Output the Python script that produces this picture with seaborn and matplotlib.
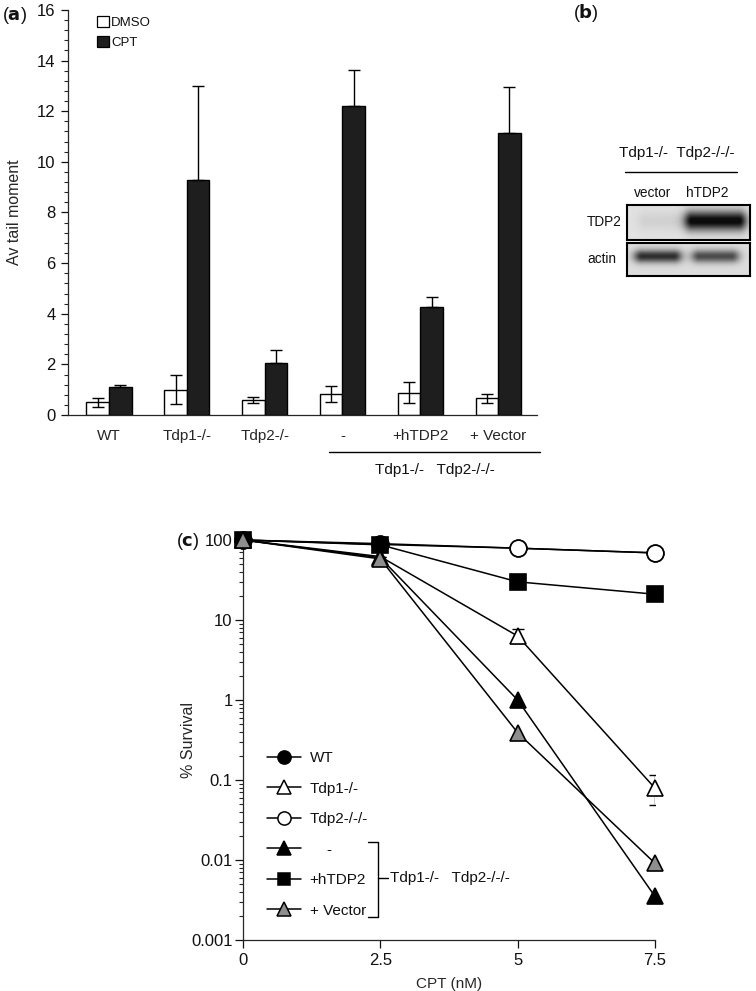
import numpy as np
import pandas as pd
import matplotlib
matplotlib.use("Agg")
import matplotlib.pyplot as plt
import matplotlib.transforms as mtrans
from matplotlib.lines import Line2D
from matplotlib.patches import Patch
from matplotlib.ticker import MultipleLocator, LogLocator, NullFormatter, FixedLocator
import seaborn as sns

# ---------------- data ----------------
groups = ["WT", "Tdp1-/-", "Tdp2-/-", "-", "+hTDP2", "+ Vector"]
treatments = ["DMSO", "CPT"]
dmso_mean = [0.50, 1.00, 0.60, 0.83, 0.88, 0.66]
dmso_err = [0.17, 0.58, 0.12, 0.30, 0.42, 0.17]
cpt_mean = [1.10, 9.30, 2.05, 12.20, 4.25, 11.15]
cpt_err = [0.10, 3.70, 0.52, 1.43, 0.42, 1.80]

lanes = ["vector", "hTDP2"]
tdp2_band = [0.07, 0.92]
actin_band = [0.72, 0.60]

doses = [0, 2.5, 5, 7.5]
dose_labels = ["0", "2.5", "5", "7.5"]
genotypes = ["WT", "Tdp1-/-", "Tdp2-/-/-", "-", "+hTDP2", "+ Vector"]
surv_wt = [100, 88, 79, 69]
surv_tdp1 = [100, 62, 6.3, 0.079]
surv_tdp2 = [100, 90, 79, 69]
surv_dko = [100, 60, 1.0, 0.0035]
surv_htdp2 = [100, 87, 30, 21]
surv_vector = [100, 58, 0.39, 0.0091]
tdp1_err_lo = [0, 0, 1.2, 0.030]
tdp1_err_hi = [0, 0, 1.4, 0.037]
ytick_vals = [0.001, 0.01, 0.1, 1, 10, 100]
ytick_labels = ["0.001", "0.01", "0.1", "1", "10", "100"]

# ---------------- style ----------------
sns.set_theme(style="ticks")
plt.rcParams["font.family"] = ["Liberation Sans", "DejaVu Sans"]
plt.rcParams["axes.linewidth"] = 0.9
plt.rcParams["text.color"] = "#111111"

W, H = 756, 991
fig = plt.figure(figsize=(W / 100, H / 100), dpi=100)


def fx(px):
    return px / W


def fy(py):
    return 1 - py / H


# ---------------- panel (a) ----------------
ax_a = fig.add_axes([fx(68), fy(415), (537 - 68) / W, (415 - 10) / H])
df_a = pd.DataFrame({
    "group": groups * 2,
    "treatment": ["DMSO"] * len(groups) + ["CPT"] * len(groups),
    "value": dmso_mean + cpt_mean,
})
sns.barplot(data=df_a, x="group", y="value", hue="treatment", order=groups,
            hue_order=treatments, palette={"DMSO": "white", "CPT": "#1e1e1e"},
            saturation=1, edgecolor="black", linewidth=1.0, width=0.58,
            errorbar=None, legend=False, ax=ax_a)

cont_d, cont_c = ax_a.containers[0], ax_a.containers[1]
xd = [p.get_x() + p.get_width() / 2 for p in cont_d]
xc = [p.get_x() + p.get_width() / 2 for p in cont_c]
ax_a.errorbar(xd, dmso_mean, yerr=dmso_err, fmt="none", ecolor="black",
              elinewidth=1.0, capsize=4, capthick=1.0, zorder=5)
ax_a.errorbar(xc, cpt_mean, yerr=[[0] * len(cpt_err), cpt_err], fmt="none",
              ecolor="black", elinewidth=1.0, capsize=4, capthick=1.0, zorder=5)

ax_a.set_xlim(-0.527, 5.5)
ax_a.set_ylim(0, 16)
ax_a.set_yticks(np.arange(0, 17, 2))
ax_a.yaxis.set_minor_locator(MultipleLocator(0.4))
ax_a.tick_params(axis="y", which="major", length=5, width=0.9, pad=4, labelsize=12, colors="#111111")
ax_a.tick_params(axis="y", which="minor", length=3, width=0.8)
ax_a.tick_params(axis="x", length=0, pad=10, labelsize=11)
ax_a.set_xlabel("")
ax_a.set_ylabel("Av tail moment", fontsize=11.5)
ax_a.yaxis.set_label_coords(-0.098, 0.5)
sns.despine(ax=ax_a)

ax_a.legend(handles=[Patch(facecolor="white", edgecolor="black", linewidth=0.9),
                     Patch(facecolor="#1e1e1e", edgecolor="black", linewidth=0.9)],
            labels=treatments, loc="upper left", bbox_to_anchor=(0.062, 0.985),
            frameon=False, fontsize=9.5, handlelength=0.9, handleheight=0.85,
            handletextpad=0.15, labelspacing=0.55, borderpad=0, borderaxespad=0)

trans_a = mtrans.blended_transform_factory(ax_a.transData, ax_a.transAxes)
ax_a.plot([2.83, 5.54], [-0.092, -0.092], transform=trans_a, color="black",
          lw=1.0, clip_on=False)
ax_a.text(4.19, -0.136, "Tdp1-/-   Tdp2-/-/-", transform=trans_a, ha="center",
          va="center", fontsize=11)

fig.text(fx(2), fy(15), r"($\mathbf{a}$)", fontsize=13, va="center", ha="left")

# ---------------- panel (b) ----------------
fig.text(fx(573), fy(13), r"($\mathbf{b}$)", fontsize=13, va="center", ha="left")
fig.text(fx(677), fy(153), "Tdp1-/-  Tdp2-/-/-", fontsize=11, ha="center", va="center")
fig.lines.append(Line2D([fx(625), fx(737)], [fy(172), fy(172)], color="black",
                        lw=1.0, transform=fig.transFigure))
fig.text(fx(653), fy(193), lanes[0], fontsize=9.8, ha="center", va="center")
fig.text(fx(707), fy(193), lanes[1], fontsize=9.8, ha="center", va="center")


def blot(ax, intens, centers, yc, sx, sy, bg):
    nx, ny = 200, 60
    xx, yy = np.meshgrid(np.linspace(0, 1, nx), np.linspace(0, 1, ny))
    img = np.full_like(xx, bg)
    for cx, a, s in zip(centers, intens, sx):
        prof_x = np.exp(-np.maximum(np.abs(xx - cx) - s, 0) ** 2 / (2 * 0.05 ** 2))
        prof_y = np.exp(-((yy - yc) ** 2) / (2 * sy ** 2))
        img += a * prof_x * prof_y
    img = np.clip(img, 0, 1)
    ax.imshow(img, cmap="gray_r", vmin=0, vmax=1.05, aspect="auto",
              extent=[0, 1, 0, 1], origin="lower", interpolation="bilinear")
    ax.set_xticks([])
    ax.set_yticks([])
    for s in ax.spines.values():
        s.set_linewidth(1.5)
        s.set_color("black")


ax_b1 = fig.add_axes([fx(627), fy(240), 123 / W, 35 / H])
blot(ax_b1, tdp2_band, [0.27, 0.72], 0.55, [0.12, 0.19], 0.2, 0.12)
ax_b2 = fig.add_axes([fx(627), fy(276), 123 / W, 33 / H])
blot(ax_b2, actin_band, [0.25, 0.72], 0.6, [0.13, 0.13], 0.14, 0.14)
fig.text(fx(587), fy(222), "TDP2", fontsize=9.8, ha="left", va="center")
fig.text(fx(587), fy(259), "actin", fontsize=9.8, ha="left", va="center")

# ---------------- panel (c) ----------------
ax_c = fig.add_axes([fx(243), fy(940), (655 - 243) / W, (940 - 540) / H])
series = [surv_wt, surv_tdp1, surv_tdp2, surv_dko, surv_htdp2, surv_vector]
styles = [("o", "black"), ("^", "white"), ("o", "white"),
          ("^", "black"), ("s", "black"), ("^", "#8e8e8e")]
df_c = pd.DataFrame({
    "dose": doses * len(genotypes),
    "survival": sum(series, []),
    "genotype": np.repeat(genotypes, len(doses)),
})
order_draw = [0, 4, 5, 3, 1, 2]
for k in order_draw:
    g = genotypes[k]
    m, fc = styles[k]
    sub = df_c[df_c["genotype"] == g]
    sns.lineplot(data=sub, x="dose", y="survival", ax=ax_c, color="black",
                 marker=m, markersize=12 if m != "s" else 11, markerfacecolor=fc,
                 markeredgecolor="black", markeredgewidth=1.2, linewidth=1.1,
                 errorbar=None, legend=False, clip_on=False, zorder=3 + k)

ax_c.errorbar(doses, surv_tdp1, yerr=[tdp1_err_lo, tdp1_err_hi], fmt="none",
              ecolor="black", elinewidth=1.0, capsize=4, capthick=1.0, zorder=2)

ax_c.set_yscale("log")
ax_c.set_ylim(0.001, 100)
ax_c.set_xlim(0, 7.5)
ax_c.set_xticks(doses)
ax_c.set_xticklabels(dose_labels)
ax_c.yaxis.set_major_locator(FixedLocator(ytick_vals))
ax_c.set_yticklabels(ytick_labels)
ax_c.yaxis.set_minor_locator(LogLocator(base=10, subs=np.arange(2, 10)))
ax_c.yaxis.set_minor_formatter(NullFormatter())
ax_c.tick_params(axis="both", which="major", length=5.5, width=0.9, pad=2,
                 labelsize=12, colors="#111111")
ax_c.tick_params(axis="x", pad=4)
ax_c.tick_params(axis="y", which="minor", length=3, width=0.8)
ax_c.set_xlabel("CPT (nM)", fontsize=11, labelpad=6)
ax_c.set_ylabel("% Survival", fontsize=11.5)
ax_c.yaxis.set_label_coords(-0.114, 0.5)
sns.despine(ax=ax_c)

handles = [Line2D([], [], color="black", lw=1.1, marker=m, markersize=9.5 if m != "s" else 8.5,
                  markerfacecolor=fc, markeredgecolor="black", markeredgewidth=1.1)
           for m, fc in styles]
labels_c = ["WT", "Tdp1-/-", "Tdp2-/-/-", "    -", "+hTDP2", "+ Vector"]
ax_c.legend(handles, labels_c, loc="upper left", bbox_to_anchor=(0.058, 0.472),
            frameon=False, fontsize=11, handlelength=2.2, handletextpad=0.6,
            labelspacing=1.08, borderpad=0, borderaxespad=0)

bx0, bx1, bx2 = 0.303, 0.328, 0.352
by0, by1, bym = 0.245, 0.0575, 0.155
ax_c.plot([bx0, bx1, bx1, bx0], [by0, by0, by1, by1], transform=ax_c.transAxes,
          color="black", lw=1.0, clip_on=False)
ax_c.plot([bx1, bx2], [bym, bym], transform=ax_c.transAxes, color="black",
          lw=1.0, clip_on=False)
ax_c.text(0.357, bym, "Tdp1-/-   Tdp2-/-/-", transform=ax_c.transAxes,
          fontsize=11, va="center", ha="left")

fig.text(fx(176), fy(542), r"($\mathbf{c}$)", fontsize=13, va="center", ha="left")

fig.savefig("out.png", dpi=100)
